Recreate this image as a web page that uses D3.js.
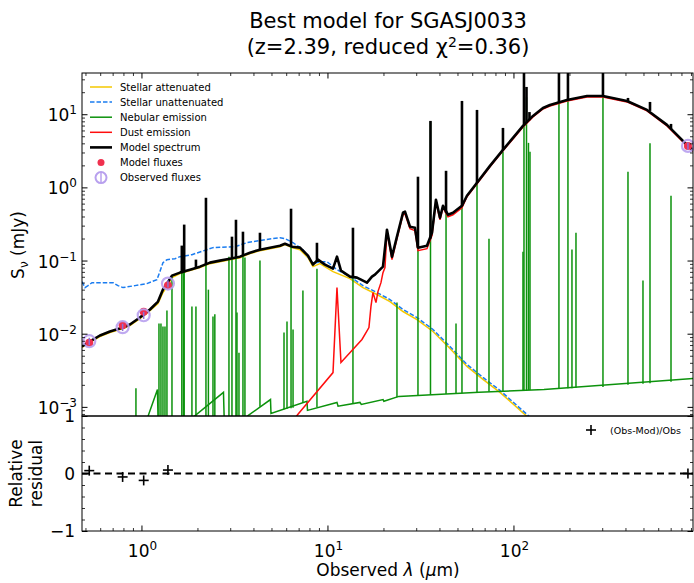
<!DOCTYPE html>
<html>
<head>
<meta charset="utf-8">
<script src="https://cdn.jsdelivr.net/npm/d3@7"></script>
<style>
  body { margin: 0; background: #fff; }
  svg { font-family: "DejaVu Sans", sans-serif; }
</style>
</head>
<body>
<svg id="chart" width="694" height="583"></svg>
<script>
// wavelengths in micron, fluxes in mJy
const modelContinuum = [
  [0.479, 0.00669], [0.529, 0.00783], [0.598, 0.00945], [0.677, 0.01072], [0.795, 0.01215],
  [0.867, 0.01335], [0.981, 0.01663], [1.111, 0.0214], [1.227, 0.0275], [1.305, 0.0401],
  [1.371, 0.0484], [1.459, 0.0622], [1.611, 0.0684], [1.823, 0.0751], [2.063, 0.0825],
  [2.335, 0.0936], [2.642, 0.0997], [2.991, 0.1061], [3.385, 0.113], [3.831, 0.1281],
  [4.336, 0.1408], [4.909, 0.150], [5.555, 0.1597], [5.908, 0.170], [6.444, 0.1547],
  [7.115, 0.150], [7.856, 0.1166], [8.356, 0.0879], [8.889, 0.1028], [9.696, 0.0879],
  [10.71, 0.0775], [11.25, 0.113], [11.82, 0.0728], [13.21, 0.0603], [14.41, 0.0584],
  [16.31, 0.0499], [17.35, 0.0603], [18.0, 0.0642], [19.88, 0.0825], [20.89, 0.264],
  [22.23, 0.113], [23.64, 0.212], [25.47, 0.450], [26.11, 0.465], [27.77, 0.290],
  [29.54, 0.281], [30.66, 0.150], [34.27, 0.1597], [36.47, 0.240], [38.31, 0.677],
  [40.27, 0.385], [41.78, 0.561], [44.45, 0.423], [47.29, 0.450], [52.86, 0.561],
  [56.23, 0.768], [63.67, 1.155], [74.76, 1.97], [87.8, 3.26], [99.4, 4.75],
  [112.5, 6.92], [127.3, 9.48], [144.1, 12.19], [157.1, 13.39], [193.9, 15.67],
  [248.5, 17.77], [302.8, 17.77], [407.6, 15.19], [522.2, 11.45], [668.8, 7.15],
  [856.6, 3.81], [934.2, 3.16]
];
// [wavelength, continuum under the line, peak]
const modelLines = [
  [1.648, 0.067, 0.16], [1.697, 0.069, 0.31], [1.963, 0.077, 0.103], [2.222, 0.089, 0.721],
  [3.066, 0.107, 0.212], [3.222, 0.111, 0.361], [3.513, 0.118, 0.248], [4.336, 0.141, 0.240],
  [6.37, 0.157, 0.511], [8.78, 0.100, 0.175], [13.71, 0.060, 0.281], [30.66, 0.150, 1.40],
  [35.8, 0.20, 8.10], [43.4, 0.45, 1.685], [52.86, 0.56, 15.19], [63.67, 1.15, 11.45],
  [87.8, 3.26, 6.50], [113.9, 7.0, 60], [117.5, 7.6, 23.6], [121.9, 8.3, 10.7],
  [175.6, 14.5, 60], [196.3, 15.7, 60], [302.8, 17.8, 60], [412.7, 15.1, 16.7],
  [542, 11.1, 14.72], [703, 6.3, 7.37]
];
const stellarAttenuated = [
  [0.479, 0.00648], [0.529, 0.00759], [0.598, 0.00916], [0.677, 0.01038], [0.795, 0.01177],
  [0.867, 0.01294], [0.981, 0.01612], [1.111, 0.0207], [1.227, 0.0258], [1.305, 0.0365],
  [1.371, 0.0441], [1.459, 0.0584], [1.611, 0.0663], [1.823, 0.0728], [2.063, 0.080],
  [2.335, 0.0907], [2.642, 0.0966], [2.991, 0.1028], [3.385, 0.1095], [3.831, 0.1242],
  [4.336, 0.1365], [4.909, 0.1453], [5.555, 0.1547], [5.908, 0.1648], [6.444, 0.150],
  [7.115, 0.1408], [7.856, 0.1095], [8.356, 0.0825], [9.113, 0.0907], [10.71, 0.0706],
  [13.21, 0.0566], [15.52, 0.0427], [18.45, 0.0343], [21.68, 0.0275], [25.47, 0.0201],
  [30.28, 0.01562], [36.92, 0.01072], [45.57, 0.00628], [56.23, 0.00357], [68.55, 0.00237],
  [84.6, 0.00158], [119.7, 0.000719], [130.5, 0.000577]
];
const stellarUnattenuated = [
  [0.479, 0.0515], [0.497, 0.0427], [0.516, 0.0454], [0.542, 0.0499], [0.613, 0.0499],
  [0.703, 0.0499], [0.748, 0.0454], [0.795, 0.0427], [0.923, 0.0454], [1.070, 0.0484],
  [1.211, 0.0549], [1.257, 0.0706], [1.305, 0.0936], [1.371, 0.1028], [1.514, 0.1061],
  [1.611, 0.113], [1.868, 0.1203], [2.423, 0.150], [3.183, 0.1547], [3.692, 0.1754],
  [4.613, 0.1928], [5.555, 0.2053], [5.908, 0.199], [6.525, 0.1754], [7.384, 0.1408],
  [8.356, 0.0907], [9.113, 0.0966], [9.938, 0.0966], [11.25, 0.0751], [13.21, 0.0603],
  [15.52, 0.0454], [18.45, 0.0365], [21.68, 0.0293], [25.47, 0.0214], [30.28, 0.01663],
  [36.92, 0.01141], [45.57, 0.00669], [56.23, 0.0038], [68.55, 0.00253], [84.6, 0.00168],
  [119.7, 0.000766], [130.5, 0.000615]
];
const nebularContinuum = [
  [0.479, 0.00014], [1.084, 0.000741], [1.219, 0.00173], [1.234, 0.00036], [1.892, 0.000719],
  [2.76, 0.00158], [2.79, 0.000577], [3.69, 0.000741], [4.94, 0.00126], [4.97, 0.000815],
  [7.76, 0.00119], [7.81, 0.000895], [11.25, 0.00115], [11.4, 0.00102], [14.95, 0.00115],
  [15.2, 0.00108], [19.9, 0.00126], [20.1, 0.00119], [24.2, 0.00139], [65.3, 0.00158],
  [146, 0.00173], [934, 0.00245]
];
// [wavelength, continuum under the line, peak]
const nebularLines = [
  [0.934, 0.0004, 0.00179], [1.242, 0.0004, 0.0138], [1.273, 0.0004, 0.0138],
  [1.305, 0.0004, 0.0125], [1.338, 0.0004, 0.0125], [1.371, 0.0004, 0.0207],
  [1.459, 0.0004, 0.060], [1.648, 0.0004, 0.09], [1.681, 0.0004, 0.08], [1.697, 0.0004, 0.25],
  [1.868, 0.0004, 0.0235], [1.963, 0.0004, 0.0235], [2.222, 0.0004, 0.65], [2.29, 0.0004, 0.040],
  [2.424, 0.0004, 0.0172], [2.48, 0.0004, 0.0185], [2.954, 0.0004, 0.113], [3.066, 0.0004, 0.12],
  [3.222, 0.0004, 0.25], [3.262, 0.0004, 0.0195], [3.344, 0.0004, 0.0055], [3.513, 0.0004, 0.13],
  [3.60, 0.0004, 0.11], [4.336, 0.0010, 0.10], [5.84, 0.00093, 0.0104], [6.06, 0.00094, 0.0147],
  [6.37, 0.00096, 0.36], [6.53, 0.00097, 0.0114], [7.38, 0.00114, 0.0388], [8.78, 0.00099, 0.0775],
  [13.71, 0.00112, 0.22], [23.64, 0.00135, 0.0267], [30.66, 0.00142, 1.25], [35.8, 0.00146, 7.9],
  [43.4, 0.0015, 1.23], [49.1, 0.00153, 0.0138], [52.86, 0.00154, 14.6], [63.67, 0.00158, 10.3],
  [73.85, 0.00161, 0.199], [87.8, 0.00163, 3.06], [112.5, 0.00168, 0.132], [113.9, 0.0017, 55],
  [117.5, 0.0017, 17], [120.4, 0.0017, 4.06], [122.7, 0.0017, 3.06], [175.6, 0.00178, 50],
  [196.3, 0.0018, 50], [206.3, 0.0018, 0.141], [216.8, 0.00182, 0.240], [302.8, 0.00187, 50],
  [412.7, 0.0020, 1.63], [496.9, 0.00207, 0.0532], [542, 0.0021, 4.0], [703, 0.0022, 0.768]
];
const dustEmission = [
  [6.29, 0.000577], [6.94, 0.00079], [10.71, 0.00294], [11.25, 0.0427], [11.82, 0.00405],
  [15.33, 0.00834], [16.71, 0.01215], [17.13, 0.0235], [17.56, 0.0365], [18.23, 0.0266],
  [18.68, 0.0376], [19.39, 0.0499], [19.88, 0.0684], [20.38, 0.080], [20.89, 0.248],
  [22.23, 0.1028], [23.64, 0.199], [25.47, 0.423], [26.11, 0.436], [27.77, 0.272],
  [29.54, 0.256], [30.66, 0.1365], [34.27, 0.1453], [36.47, 0.2187], [38.31, 0.636],
  [40.27, 0.361], [41.78, 0.527], [44.45, 0.397], [47.29, 0.423], [52.86, 0.527],
  [56.23, 0.744], [63.67, 1.12], [74.76, 1.91], [87.8, 3.16], [99.4, 4.60],
  [112.5, 6.71], [127.3, 9.19], [144.1, 11.81], [157.1, 12.98], [193.9, 15.19],
  [248.5, 17.22], [302.8, 17.22], [407.6, 14.72], [522.2, 11.09], [668.8, 6.92],
  [856.6, 3.69], [934.2, 3.06]
];
const filterWavelengths = [0.524, 0.792, 1.028, 1.388, 867];
const observedFluxes = [0.0079, 0.01227, 0.01788, 0.0484, 3.69];
const observedErrors = [0.0009, 0.0014, 0.002, 0.0055, 0.42];
const modelFluxes = [0.0075, 0.0130, 0.0200, 0.0455, 3.69];
const residuals = [0.05, -0.06, -0.12, 0.06, 0.0];

const xMajor = [1, 10, 100];
const xMajorExp = ["0", "1", "2"];
const yMajor = [1e-3, 1e-2, 1e-1, 1, 10];
const yMajorExp = ["\u22123", "\u22122", "\u22121", "0", "1"];
const resTicks = [-1, 0, 1];
const resLabels = ["\u22121", "0", "1"];

const legendItems = [
  { label: "Stellar attenuated", color: "#f5c800", kind: "line", width: 1.5 },
  { label: "Stellar unattenuated", color: "#1a7cf0", kind: "dash", width: 1.5 },
  { label: "Nebular emission", color: "#0c920c", kind: "line", width: 1.5 },
  { label: "Dust emission", color: "#ff0d0d", kind: "line", width: 1.5 },
  { label: "Model spectrum", color: "#000", kind: "line", width: 2.6 },
  { label: "Model fluxes", color: "#f0304e", kind: "dot" },
  { label: "Observed fluxes", color: "#b8a0ee", kind: "obs" }
];

const L = 82, R = 693, T = 73, MID = 416, B = 531;
const svg = d3.select("#chart");

const x = d3.scaleLog().domain([0.479, 923]).range([L, R]);
const y = d3.scaleLog().domain([7.5e-4, 36.6]).range([MID, T]);
const yr = d3.scaleLinear().domain([-1, 1]).range([B, MID]);

svg.append("clipPath").attr("id", "clipTop")
  .append("rect").attr("x", L).attr("y", T).attr("width", R - L).attr("height", MID - T);
svg.append("clipPath").attr("id", "clipBot")
  .append("rect").attr("x", L).attr("y", MID).attr("width", R - L).attr("height", B - MID);

const topG = svg.append("g").attr("clip-path", "url(#clipTop)");
const line = d3.line().x(d => x(d[0])).y(d => y(d[1]));

topG.append("path").datum(stellarAttenuated).attr("d", line)
  .attr("fill", "none").attr("stroke", "#f5c800").attr("stroke-width", 1.5);
topG.append("path").datum(stellarUnattenuated).attr("d", line)
  .attr("fill", "none").attr("stroke", "#1a7cf0").attr("stroke-width", 1.5)
  .attr("stroke-dasharray", "4.5,2");

// nebular emission: continuum + lines
topG.append("path").datum(nebularContinuum).attr("d", line)
  .attr("fill", "none").attr("stroke", "#0c920c").attr("stroke-width", 1.5);
topG.selectAll(".neb").data(nebularLines).join("line").attr("class", "neb")
  .attr("x1", d => x(d[0])).attr("x2", d => x(d[0]))
  .attr("y1", d => y(d[1])).attr("y2", d => y(d[2]))
  .attr("stroke", "#0c920c").attr("stroke-width", 1.5);

topG.append("path").datum(dustEmission).attr("d", line)
  .attr("fill", "none").attr("stroke", "#ff0d0d").attr("stroke-width", 1.5);

topG.append("path").datum(modelContinuum).attr("d", line)
  .attr("fill", "none").attr("stroke", "#000").attr("stroke-width", 2.6)
  .attr("stroke-linejoin", "round");
topG.selectAll(".mline").data(modelLines).join("line").attr("class", "mline")
  .attr("x1", d => x(d[0])).attr("x2", d => x(d[0]))
  .attr("y1", d => y(d[1])).attr("y2", d => y(d[2]))
  .attr("stroke", "#000").attr("stroke-width", 2.6);

// fluxes
const fluxG = svg.append("g");
fluxG.selectAll(".mod").data(modelFluxes).join("circle").attr("class", "mod")
  .attr("cx", (d, i) => x(filterWavelengths[i])).attr("cy", d => y(d))
  .attr("r", 4).attr("fill", "#f0304e");
fluxG.selectAll(".err").data(observedFluxes).join("line").attr("class", "err")
  .attr("x1", (d, i) => x(filterWavelengths[i])).attr("x2", (d, i) => x(filterWavelengths[i]))
  .attr("y1", (d, i) => y(d - observedErrors[i])).attr("y2", (d, i) => y(d + observedErrors[i]))
  .attr("stroke", "#8d6fd8").attr("stroke-width", 1.5);
fluxG.selectAll(".obs").data(observedFluxes).join("circle").attr("class", "obs")
  .attr("cx", (d, i) => x(filterWavelengths[i])).attr("cy", d => y(d))
  .attr("r", 6).attr("fill", "none").attr("stroke", "#b8a0ee").attr("stroke-width", 2.2)
  .attr("stroke-opacity", 0.9);

// residual panel
const botG = svg.append("g").attr("clip-path", "url(#clipBot)");
botG.append("line").attr("x1", L).attr("x2", R).attr("y1", yr(0)).attr("y2", yr(0))
  .attr("stroke", "#000").attr("stroke-width", 2).attr("stroke-dasharray", "7,4.5");
const plus = (g, cx, cy, s) => {
  g.append("line").attr("x1", cx - s).attr("x2", cx + s).attr("y1", cy).attr("y2", cy)
    .attr("stroke", "#000").attr("stroke-width", 1.6);
  g.append("line").attr("x1", cx).attr("x2", cx).attr("y1", cy - s).attr("y2", cy + s)
    .attr("stroke", "#000").attr("stroke-width", 1.6);
};
residuals.forEach((r, i) => plus(botG, x(filterWavelengths[i]), yr(r), 5));

// frames
[[T, MID], [MID, B]].forEach(([a, b]) => {
  svg.append("rect").attr("x", L).attr("y", a).attr("width", R - L).attr("height", b - a)
    .attr("fill", "none").attr("stroke", "#000").attr("stroke-width", 1);
});

// ticks (all pointing in)
const xMinor = x.ticks().filter(v => !xMajor.includes(v));
const yMinor = y.ticks().filter(v => !yMajor.some(m => Math.abs(m - v) / m < 1e-6));
const resMinor = d3.range(-0.8, 0.81, 0.2).filter(v => Math.abs(v) > 1e-6);

function ticks(axis, pos, values, size, width) {
  const g = svg.append("g").attr("transform", pos)
    .call(axis.tickValues(values).tickSize(-size).tickFormat(""));
  g.select(".domain").remove();
  g.selectAll("line").attr("stroke-width", width);
}
ticks(d3.axisLeft(y), `translate(${L},0)`, yMajor, 5.5, 1);
ticks(d3.axisLeft(y), `translate(${L},0)`, yMinor, 3, 0.8);
ticks(d3.axisRight(y), `translate(${R},0)`, yMajor, 5.5, 1);
ticks(d3.axisRight(y), `translate(${R},0)`, yMinor, 3, 0.8);
ticks(d3.axisTop(x), `translate(0,${T})`, xMajor, 5.5, 1);
ticks(d3.axisTop(x), `translate(0,${T})`, xMinor, 3, 0.8);
ticks(d3.axisBottom(x), `translate(0,${B})`, xMajor, 5.5, 1);
ticks(d3.axisBottom(x), `translate(0,${B})`, xMinor, 3, 0.8);
ticks(d3.axisLeft(yr), `translate(${L},0)`, resTicks, 5.5, 1);
ticks(d3.axisLeft(yr), `translate(${L},0)`, resMinor, 3, 0.8);
ticks(d3.axisRight(yr), `translate(${R},0)`, resTicks, 5.5, 1);
ticks(d3.axisRight(yr), `translate(${R},0)`, resMinor, 3, 0.8);

// tick labels
function pow10(t, exp) {
  t.append("tspan").text("10");
  t.append("tspan").attr("dy", -7).attr("font-size", 12).text(exp);
}
yMajor.forEach((v, i) => {
  const t = svg.append("text").attr("x", 77).attr("y", y(v) + 7)
    .attr("text-anchor", "end").attr("font-size", 17);
  pow10(t, yMajorExp[i]);
});
xMajor.forEach((v, i) => {
  const t = svg.append("text").attr("x", x(v) + 1).attr("y", 557)
    .attr("text-anchor", "middle").attr("font-size", 17);
  pow10(t, xMajorExp[i]);
});
resTicks.forEach((v, i) => {
  svg.append("text").attr("x", 75).attr("y", yr(v) + 6)
    .attr("text-anchor", "end").attr("font-size", 17).text(resLabels[i]);
});

// axis labels
const yl = svg.append("text").attr("transform", "translate(24,245) rotate(-90)")
  .attr("text-anchor", "middle").attr("font-size", 17);
yl.append("tspan").text("S");
yl.append("tspan").attr("dy", 4).attr("font-size", 12).text("\u03bd");
yl.append("tspan").attr("dy", -4).text(" (mJy)");

svg.append("text").attr("transform", "translate(22,473.5) rotate(-90)")
  .attr("text-anchor", "middle").attr("font-size", 17).text("Relative");
svg.append("text").attr("transform", "translate(41.5,473.5) rotate(-90)")
  .attr("text-anchor", "middle").attr("font-size", 17).text("residual");

const xl = svg.append("text").attr("x", 388).attr("y", 576)
  .attr("text-anchor", "middle").attr("font-size", 17);
xl.append("tspan").text("Observed ");
xl.append("tspan").attr("font-style", "italic").text("\u03bb");
xl.append("tspan").text(" (");
xl.append("tspan").attr("font-style", "italic").text("\u03bc");
xl.append("tspan").text("m)");

// title
svg.append("text").attr("x", 388).attr("y", 28).attr("text-anchor", "middle")
  .attr("font-size", 21).text("Best model for SGASJ0033");
const t2 = svg.append("text").attr("x", 388).attr("y", 54).attr("text-anchor", "middle")
  .attr("font-size", 21);
t2.append("tspan").text("(z=2.39, reduced \u03c7");
t2.append("tspan").attr("dy", -7).attr("font-size", 14).text("2");
t2.append("tspan").attr("dy", 7).text("=0.36)");

// legend
const lg = svg.append("g").attr("font-size", 10);
legendItems.forEach((it, i) => {
  const cy = 87 + i * 15.1;
  if (it.kind === "line" || it.kind === "dash") {
    lg.append("line").attr("x1", 90).attr("x2", 112).attr("y1", cy).attr("y2", cy)
      .attr("stroke", it.color).attr("stroke-width", it.width)
      .attr("stroke-dasharray", it.kind === "dash" ? "4.5,2" : null);
  } else if (it.kind === "dot") {
    lg.append("circle").attr("cx", 101).attr("cy", cy).attr("r", 3.5).attr("fill", it.color);
  } else {
    lg.append("line").attr("x1", 101).attr("x2", 101).attr("y1", cy - 5).attr("y2", cy + 5)
      .attr("stroke", it.color).attr("stroke-width", 1.5);
    lg.append("circle").attr("cx", 101).attr("cy", cy).attr("r", 5.5).attr("fill", "none")
      .attr("stroke", it.color).attr("stroke-width", 2);
  }
  lg.append("text").attr("x", 120).attr("y", cy + 3.6).text(it.label);
});

// residual legend
plus(svg, 591, 430, 5);
svg.append("text").attr("x", 610).attr("y", 433.5).attr("font-size", 9.5).text("(Obs-Mod)/Obs");
</script>
</body>
</html>
